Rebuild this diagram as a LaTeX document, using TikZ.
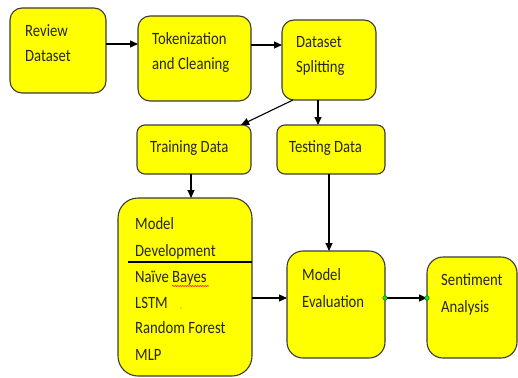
\documentclass[tikz,border=0pt]{standalone}
\usepackage{graphicx}
\usepackage{fontspec}
\setmainfont{Carlito}
\usetikzlibrary{arrows.meta,decorations.pathmorphing}
\definecolor{boxyellow}{HTML}{FFFF00}
\definecolor{boxline}{HTML}{3A3A3A}
\definecolor{dotgreen}{HTML}{22DD22}
\newcommand{\talltext}[1]{\scalebox{0.98}[1.15]{#1}}
\tikzset{
  box/.style={draw=boxline, fill=boxyellow, line width=1.1pt, inner sep=0pt, outer sep=0pt},
  txt/.style={anchor=base west, inner sep=0pt, text=black!85, font=\fontsize{15}{18}\selectfont},
  arr/.style={draw=black, line width=1.1pt, -{Triangle[length=8pt,width=7pt]}},
  gdot/.style={circle, fill=dotgreen, draw=green!40!black, line width=0.4pt, inner sep=0pt, minimum size=4.5pt}
}
\begin{document}
\begin{tikzpicture}[x=1pt,y=-1pt]
\useasboundingbox (0,0) rectangle (518,377);
% boxes
\node[box, rounded corners=12pt, minimum width=96pt, minimum height=85pt] (rd) at (58,50.5) {};
\node[box, rounded corners=12pt, minimum width=113pt, minimum height=85pt] (tc) at (194.5,58.5) {};
\node[box, rounded corners=12pt, minimum width=94pt, minimum height=80pt] (ds) at (329,60) {};
\node[box, rounded corners=8pt, minimum width=114pt, minimum height=49pt] (trd) at (194,149.5) {};
\node[box, rounded corners=8pt, minimum width=108pt, minimum height=49pt] (te) at (331,149.5) {};
\node[box, rounded corners=20pt, minimum width=134pt, minimum height=178pt] (md) at (185,287) {};
\node[box, rounded corners=16pt, minimum width=98pt, minimum height=107pt] (me) at (336,304.5) {};
\node[box, rounded corners=16pt, minimum width=90pt, minimum height=101pt] (sa) at (472,307.5) {};
% texts
\node[txt] (t1a) at (25,37) {\talltext{Review}};
\node[txt] (t1b) at (25,62) {\talltext{Dataset}};
\node[txt] (t2a) at (152,45) {\talltext{Tokenization}};
\node[txt] (t2b) at (152,70) {\talltext{and Cleaning}};
\node[txt] (t3a) at (296,48) {\talltext{Dataset}};
\node[txt] (t3b) at (296,73) {\talltext{Splitting}};
\node[txt] (t4) at (150,152) {\talltext{Training Data}};
\node[txt] (t5) at (289,152) {\talltext{Testing Data}};
\node[txt] (t6a) at (135,229) {\talltext{Model}};
\node[txt] (t6b) at (135,256) {\talltext{Development}};
\node[txt] (t6c) at (135,282) {\talltext{Naïve Bayes}};
\node[txt] (t6d) at (135,308) {\talltext{LSTM}};
\node[txt] (t6e) at (135,333) {\talltext{Random Forest}};
\node[txt] (t6f) at (135,360) {\talltext{MLP}};
\node[txt] (t7a) at (302,280) {\talltext{Model}};
\node[txt] (t7b) at (302,307) {\talltext{Evaluation}};
\node[txt] (t8a) at (441,285) {\talltext{Sentiment}};
\node[txt] (t8b) at (441,312) {\talltext{Analysis}};
% divider and marks
\draw[line width=1.1pt] (128,262) -- (md.east |- 0,262);
\draw[red, line width=0.5pt, decorate, decoration={snake, amplitude=0.6pt, segment length=2.5pt}] (172,286) -- (209,286);
\fill[gray] (181,308) circle (0.7pt);
% connectors
\draw[arr] (rd.east |- 0,44) -- (tc.west |- 0,44);
\draw[arr] (tc.east |- 0,45) -- (ds.west |- 0,45);
\draw[arr] (293,0 |- ds.south) -- (241,0 |- trd.north);
\draw[arr] (318,0 |- ds.south) -- (318,0 |- te.north);
\draw[arr] (191,0 |- trd.south) -- (191,0 |- md.north);
\draw[arr] (329,0 |- te.south) -- (329,0 |- me.north);
\draw[arr] (md.east |- 0,298) -- (me.west |- 0,298);
\draw[arr] (me.east |- 0,298) -- (sa.west |- 0,298);
\node[gdot] (g1) at (me.east |- 0,298) {};
\node[gdot] (g2) at (sa.west |- 0,298) {};
\end{tikzpicture}
\end{document}
